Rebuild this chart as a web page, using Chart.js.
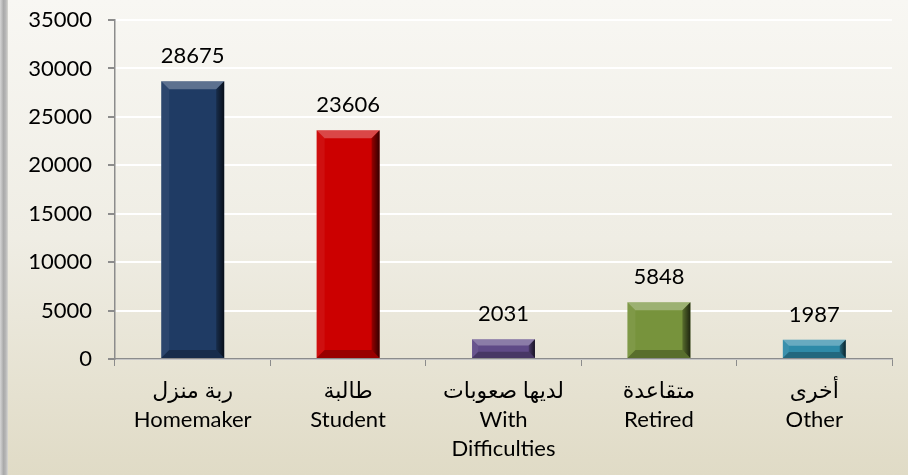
<!DOCTYPE html>
<html>
<head>
<meta charset="utf-8">
<script src="https://cdn.jsdelivr.net/npm/chart.js@4"></script>
<style>
  html, body { margin: 0; padding: 0; }
  .chart-box {
    position: relative;
    width: 908px;
    height: 475px;
    background: linear-gradient(to bottom, #f8f7f3 0%, #efede4 50%, #e0dbc6 100%);
    overflow: hidden;
  }
  .chart-box .edge {
    position: absolute;
    left: 0; top: 0;
    width: 8px; height: 100%;
    background: linear-gradient(to right, #d6d6d6 0%, #a9a9a9 45%, #b9b9b9 75%, #d9d8d2 100%);
  }
  canvas { position: absolute; left: 0; top: 0; }
</style>
</head>
<body>
<div class="chart-box">
  <div class="edge"></div>
  <canvas id="chart" width="908" height="475"></canvas>
</div>
<script>
// dados do gráfico
const categories = [
  ['ربة منزل', 'Homemaker'],
  ['طالبة', 'Student'],
  ['لديها صعوبات', 'With', 'Difficulties'],
  ['متقاعدة', 'Retired'],
  ['أخرى', 'Other']
];
const values = [28675, 23606, 2031, 5848, 1987];
const barColors = ['#1f3b64', '#cc0000', '#5f4a87', '#77933c', '#2e8aa8'];
const yTicks = [0, 5000, 10000, 15000, 20000, 25000, 30000, 35000];

const FONT = "Lato, 'DejaVu Sans', sans-serif";

// efeito de chanfro nas barras
const bevelPlugin = {
  id: 'bevel',
  afterDatasetsDraw(chart) {
    const ctx = chart.ctx;
    chart.getDatasetMeta(0).data.forEach(bar => {
      const l = bar.x - bar.width / 2;
      const r = bar.x + bar.width / 2;
      const t = Math.min(bar.y, bar.base);
      const b = Math.max(bar.y, bar.base);
      const s = Math.min(8, (b - t) / 3);
      ctx.save();
      // topo claro
      ctx.fillStyle = 'rgba(255,255,255,0.28)';
      ctx.beginPath();
      ctx.moveTo(l, t); ctx.lineTo(r, t); ctx.lineTo(r - s, t + s); ctx.lineTo(l + s, t + s);
      ctx.closePath(); ctx.fill();
      // lado esquerdo
      ctx.fillStyle = 'rgba(255,255,255,0.06)';
      ctx.beginPath();
      ctx.moveTo(l, t); ctx.lineTo(l + s, t + s); ctx.lineTo(l + s, b - s); ctx.lineTo(l, b);
      ctx.closePath(); ctx.fill();
      // lado direito escuro
      const g = ctx.createLinearGradient(r - s, 0, r, 0);
      g.addColorStop(0, 'rgba(0,0,0,0.25)');
      g.addColorStop(1, 'rgba(0,0,0,0.75)');
      ctx.fillStyle = g;
      ctx.beginPath();
      ctx.moveTo(r, t); ctx.lineTo(r, b); ctx.lineTo(r - s, b - s); ctx.lineTo(r - s, t + s);
      ctx.closePath(); ctx.fill();
      // base escura
      ctx.fillStyle = 'rgba(0,0,0,0.25)';
      ctx.beginPath();
      ctx.moveTo(l, b); ctx.lineTo(r, b); ctx.lineTo(r - s, b - s); ctx.lineTo(l + s, b - s);
      ctx.closePath(); ctx.fill();
      ctx.restore();
    });
  }
};

// rótulos de valores acima das barras
const valueLabels = {
  id: 'valueLabels',
  afterDatasetsDraw(chart) {
    const ctx = chart.ctx;
    const ds = chart.data.datasets[0];
    ctx.save();
    ctx.font = '22px ' + FONT;
    ctx.fillStyle = '#000';
    ctx.textAlign = 'center';
    ctx.textBaseline = 'alphabetic';
    chart.getDatasetMeta(0).data.forEach((bar, i) => {
      ctx.fillText(String(ds.data[i]), bar.x, bar.y - 18);
    });
    ctx.restore();
  }
};

new Chart(document.getElementById('chart'), {
  type: 'bar',
  data: {
    labels: categories,
    datasets: [{
      data: values,
      backgroundColor: barColors,
      borderWidth: 0,
      categoryPercentage: 0.81,
      barPercentage: 0.5
    }]
  },
  options: {
    responsive: false,
    animation: false,
    layout: { padding: { left: 8, top: 20, right: 16, bottom: 0 } },
    plugins: {
      legend: { display: false },
      tooltip: { enabled: false }
    },
    scales: {
      x: {
        afterFit: s => { s.height = 116; s.paddingLeft = 0; s.paddingRight = 0; },
        grid: {
          drawOnChartArea: false,
          drawTicks: true,
          tickLength: 7,
          tickColor: '#8c8c8c',
          offset: true
        },
        border: { color: '#8c8c8c', width: 1.5 },
        ticks: {
          color: '#000',
          padding: 10,
          font: { family: FONT, size: 22, lineHeight: 1.33 },
          maxRotation: 0,
          autoSkip: false
        }
      },
      y: {
        min: 0,
        max: 35000,
        afterFit: s => { s.width = 107; s.paddingTop = 0; s.paddingBottom = 0; },
        afterBuildTicks: s => { s.ticks = yTicks.map(v => ({ value: v })); },
        grid: {
          color: '#ffffff',
          lineWidth: 2,
          tickColor: '#8c8c8c',
          tickLength: 7,
          drawTicks: true
        },
        border: { color: '#8c8c8c', width: 1.5 },
        ticks: {
          color: '#000',
          padding: 16,
          font: { family: FONT, size: 22 },
          callback: v => String(v)
        }
      }
    }
  },
  plugins: [bevelPlugin, valueLabels]
});
</script>
</body>
</html>
